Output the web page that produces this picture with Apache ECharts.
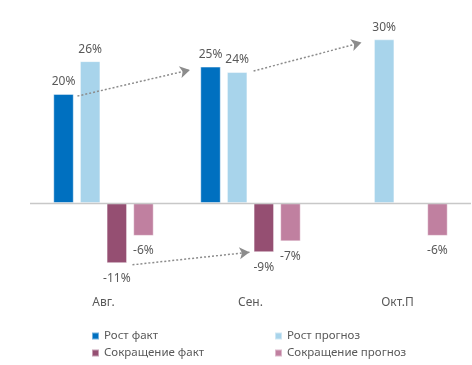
<!DOCTYPE html>
<html><head><meta charset="utf-8">
<script src="https://cdn.jsdelivr.net/npm/echarts@6/dist/echarts.min.js"></script>
<style>html,body{margin:0;padding:0;background:#fff}#c{width:472px;height:365px}</style>
</head><body><div id="c"></div>
<script>
var categories = ['Авг.', 'Сен.', 'Окт.П'];
var seriesNames = ['Рост факт', 'Рост прогноз', 'Сокращение факт', 'Сокращение прогноз'];
var growthFact = [20, 25, null];
var growthForecast = [26, 24, 30];
var cutFact = [-11, -9, null];
var cutForecast = [-6, -7, -6];
var colors = ['#0070C0', '#A8D4EB', '#954F72', '#C080A0'];
// annotation arrows in data space of a hidden value x axis (0..3 spans the 3 categories)
var arrows = [
  [[0.323, 19.6], [1.088, 24.4]],
  [[1.521, 24.2], [2.255, 29.4]],
  [[0.697, -11.3], [1.493, -9.0]]
];

var font = 'Noto Sans';
var chart = echarts.init(document.getElementById('c'));
function barSeries(i, data, pos) {
  return {
    name: seriesNames[i], type: 'bar', data: data, xAxisIndex: 0,
    barWidth: 20.5, barGap: '30%',
    itemStyle: { color: colors[i], borderColor: 'rgba(255,255,255,0.45)', borderWidth: 1 },
    label: { show: true, position: pos, distance: pos === 'top' ? 6 : 9, formatter: function(p){ return p.value + '%'; },
      color: '#595959', fontSize: 12, fontFamily: font },
    emphasis: { disabled: true }, silent: true
  };
}
var series = [
  barSeries(0, growthFact, 'top'),
  barSeries(1, growthForecast, 'top'),
  barSeries(2, cutFact, 'bottom'),
  barSeries(3, cutForecast, 'bottom')
];
series[0].markLine = {
  silent: true, symbol: ['none', 'none'], label: { show: false },
  lineStyle: { color: '#c8c8c8', width: 1.3, type: 'solid' },
  data: [{ yAxis: 0 }]
};
series.push({
  type: 'line', xAxisIndex: 1, data: [], silent: true,
  markLine: {
    silent: true, symbol: ['none', 'arrow'], symbolSize: [9, 10],
    label: { show: false },
    lineStyle: { color: '#8c8c8c', width: 1.5, type: [2, 2] },
    data: arrows.map(function(a){ return [{ coord: a[0] }, { coord: a[1] }]; })
  }
});

var legendText = { color: '#595959', fontSize: 11.5, fontFamily: font };
chart.setOption({
  animation: false,
  grid: { left: 30, right: 1, top: 12, bottom: 80 },
  xAxis: [
    { type: 'category', data: categories, position: 'bottom',
      axisLine: { show: false }, axisTick: { show: false },
      axisLabel: { color: '#595959', fontSize: 12, fontFamily: font, margin: 12 } },
    { type: 'value', min: 0, max: 3, show: false }
  ],
  yAxis: { type: 'value', min: -15, max: 35, show: false, splitLine: { show: false } },
  legend: [
    { data: [seriesNames[0], seriesNames[2]], orient: 'vertical', left: 86, top: 325,
      itemWidth: 7, itemHeight: 7, itemGap: 5, icon: 'rect', textStyle: legendText },
    { data: [seriesNames[1], seriesNames[3]], orient: 'vertical', left: 269, top: 325,
      itemWidth: 7, itemHeight: 7, itemGap: 5, icon: 'rect', textStyle: legendText }
  ],
  series: series
});
</script></body></html>
